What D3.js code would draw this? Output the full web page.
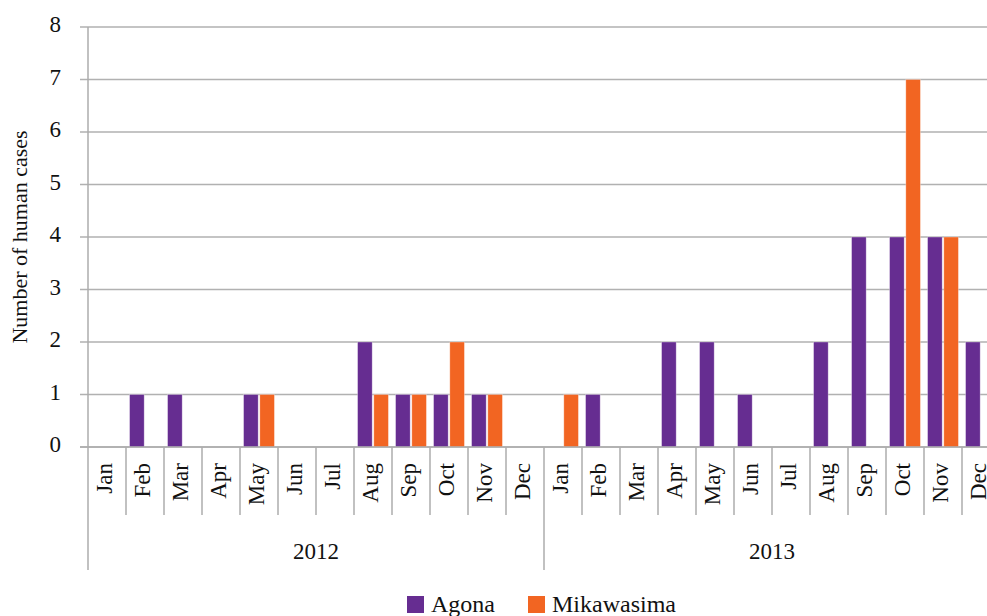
<!DOCTYPE html>
<html lang="en">
<head>
    <meta charset="UTF-8">
    <title>Human cases by month</title>
    <script src="https://d3js.org/d3.v7.min.js"></script>
    <style>
        body { margin: 0; background: #fff; }
        svg text { font-family: "Liberation Serif", "DejaVu Serif", serif; fill: #111; }
        .grid line { stroke: #b1b1b1; stroke-width: 1.5; }
        .sep { stroke: #adadad; stroke-width: 1.5; }
    </style>
</head>
<body>
<div id="chart"></div>
<script>
    // data
    var years = ["2012", "2013"];
    var months = ["Jan", "Feb", "Mar", "Apr", "May", "Jun", "Jul", "Aug", "Sep", "Oct", "Nov", "Dec"];
    var series = ["Agona", "Mikawasima"];
    var agona = [0, 1, 1, 0, 1, 0, 0, 2, 1, 1, 1, 0,
                 0, 1, 0, 2, 2, 1, 0, 2, 4, 4, 4, 2];
    var mikawasima = [0, 0, 0, 0, 1, 0, 0, 1, 1, 2, 1, 0,
                      1, 0, 0, 0, 0, 0, 0, 0, 0, 7, 4, 0];
    var yTicks = [0, 1, 2, 3, 4, 5, 6, 7, 8];
    var colors = ["#662d91", "#f26522"];

    var width = 987, height = 616;
    var plotLeft = 88, plotTop = 27, plotBottom = 447;
    var bandW = 38;

    // one entry per month across both years
    var cats = [];
    years.forEach(function (y) {
        months.forEach(function (m) { cats.push(y + "-" + m); });
    });
    var rows = cats.map(function (c, i) {
        return { key: c, month: c.split("-")[1], values: [agona[i], mikawasima[i]] };
    });

    var svg = d3.select("#chart").append("svg")
        .attr("width", width)
        .attr("height", height);

    var x = d3.scaleBand()
        .domain(cats)
        .range([plotLeft, plotLeft + bandW * cats.length]);

    var xInner = d3.scaleBand()
        .domain(series)
        .range([0, x.bandwidth()])
        .paddingInner(0.1)
        .paddingOuter(0.22);

    var y = d3.scaleLinear()
        .domain([0, 8])
        .range([plotBottom, plotTop]);

    // grid lines (they also serve as tick marks on the left)
    svg.append("g")
        .attr("class", "grid")
        .selectAll("line")
        .data(yTicks)
        .enter()
        .append("line")
        .attr("x1", plotLeft - 8)
        .attr("x2", width)
        .attr("y1", function (d) { return y(d); })
        .attr("y2", function (d) { return y(d); });

    // y tick labels
    svg.selectAll(".ytick")
        .data(yTicks)
        .enter()
        .append("text")
        .attr("class", "ytick")
        .attr("x", 61)
        .attr("y", function (d) { return y(d); })
        .attr("text-anchor", "end")
        .attr("dominant-baseline", "middle")
        .style("font-size", "23px")
        .text(function (d) { return d; });

    // y axis line
    svg.append("line")
        .attr("class", "sep")
        .attr("x1", plotLeft).attr("x2", plotLeft)
        .attr("y1", plotTop).attr("y2", 570);

    // y axis title
    svg.append("text")
        .attr("transform", "translate(22," + ((plotTop + plotBottom) / 2) + ") rotate(-90)")
        .attr("text-anchor", "middle")
        .attr("dominant-baseline", "middle")
        .style("font-size", "22px")
        .text("Number of human cases");

    // bars
    var groups = svg.selectAll(".month")
        .data(rows)
        .enter()
        .append("g")
        .attr("class", "month")
        .attr("transform", function (d) { return "translate(" + x(d.key) + ",0)"; });

    groups.selectAll("rect")
        .data(function (d) {
            return d.values.map(function (v, i) { return { s: series[i], v: v, i: i }; });
        })
        .enter()
        .append("rect")
        .attr("x", function (d) { return xInner(d.s); })
        .attr("width", xInner.bandwidth())
        .attr("y", function (d) { return y(d.v); })
        .attr("height", function (d) { return plotBottom - y(d.v); })
        .style("fill", function (d) { return colors[d.i]; })
        .style("stroke", "#ffffff")
        .style("stroke-opacity", 0.4)
        .style("stroke-width", 0.8);

    // baseline
    svg.append("line")
        .attr("class", "sep")
        .attr("x1", plotLeft - 8).attr("x2", width)
        .attr("y1", plotBottom).attr("y2", plotBottom);

    // month separators
    svg.selectAll(".msep")
        .data(cats.slice(1))
        .enter()
        .append("line")
        .attr("class", "sep")
        .attr("x1", function (d) { return x(d); })
        .attr("x2", function (d) { return x(d); })
        .attr("y1", plotBottom)
        .attr("y2", function (d, i) { return (i + 1) % 12 === 0 ? 570 : 515; });

    // month labels, rotated
    svg.selectAll(".mlabel")
        .data(rows)
        .enter()
        .append("text")
        .attr("class", "mlabel")
        .attr("transform", function (d) {
            return "translate(" + (x(d.key) + x.bandwidth() / 2) + ",463) rotate(-90)";
        })
        .attr("text-anchor", "end")
        .attr("dominant-baseline", "middle")
        .style("font-size", "23px")
        .text(function (d) { return d.month; });

    // year labels
    svg.selectAll(".ylabel")
        .data(years)
        .enter()
        .append("text")
        .attr("class", "ylabel")
        .attr("x", function (d, i) { return plotLeft + bandW * 12 * i + bandW * 6; })
        .attr("y", 559)
        .attr("text-anchor", "middle")
        .style("font-size", "23px")
        .text(function (d) { return d; });

    // legend
    var legendX = [407, 528];
    var legend = svg.selectAll(".legend")
        .data(series)
        .enter()
        .append("g")
        .attr("class", "legend")
        .attr("transform", function (d, i) { return "translate(" + legendX[i] + ",595)"; });

    legend.append("rect")
        .attr("y", 1)
        .attr("width", 17)
        .attr("height", 17)
        .style("fill", function (d, i) { return colors[i]; });

    legend.append("text")
        .attr("x", 24)
        .attr("y", 17)
        .style("font-size", "24px")
        .text(function (d) { return d; });
</script>
</body>
</html>
